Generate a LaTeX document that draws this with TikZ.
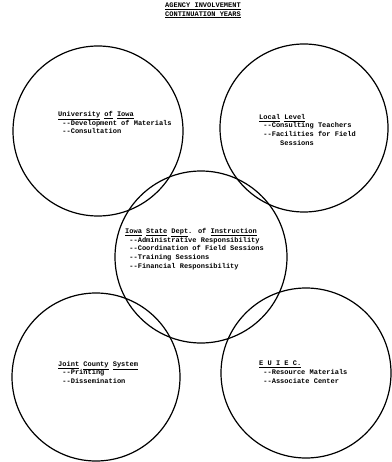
\documentclass[tikz,border=0pt]{standalone}
\usepackage{fontspec}
\newfontfamily\tw{Liberation Mono}
\newcommand{\dd}{-{}-}
\tikzset{
  ring/.style={circle, draw=black, line width=1.2pt, inner sep=0pt},
  label/.style={anchor=north west, inner sep=0pt, align=left, font=\tw\bfseries\fontsize{7}{8.7}\selectfont},
  ttl/.style={anchor=north, inner sep=0pt, align=center, font=\tw\bfseries\fontsize{7}{8.2}\selectfont}
}
\begin{document}
\begin{tikzpicture}[x=1pt,y=-1pt]
\useasboundingbox (0,0) rectangle (391,462);
\node[ring, minimum size=170pt] (ui) at (98,131) {};
\node[ring, minimum size=168pt] (ll) at (304,128) {};
\node[ring, minimum size=172pt] (isd) at (201,257) {};
\node[ring, minimum size=168pt] (jcs) at (96,377) {};
\node[ring, minimum size=170pt] (euiec) at (306,373) {};
\node[ttl] (title) at (203,3) {\underline{AGENCY INVOLVEMENT}\\\underline{CONTINUATION YEARS}};
\node[label] (tui) at (58,111) {\underline{University} \underline{of} \underline{Iowa}\\~\dd Development of Materials\\~\dd Consultation};
\node[label] (tll) at (259,114) {\underline{Local} \underline{Level}\\~\dd Consulting Teachers\\~\dd Facilities for Field\\~~~~~Sessions};
\node[label] (tisd) at (125,228) {\underline{Iowa} \underline{State} \underline{Dept}. of \underline{Instruction}\\~\dd Administrative Responsibility\\~\dd Coordination of Field Sessions\\~\dd Training Sessions\\~\dd Financial Responsibility};
\node[label] (tjcs) at (58,361) {\underline{Joint} \underline{County} \underline{System}\\~\dd Printing\\~\dd Dissemination};
\node[label] (teuiec) at (259,361) {\underline{E U I E C.}\\~\dd Resource Materials\\~\dd Associate Center};
\end{tikzpicture}
\end{document}
